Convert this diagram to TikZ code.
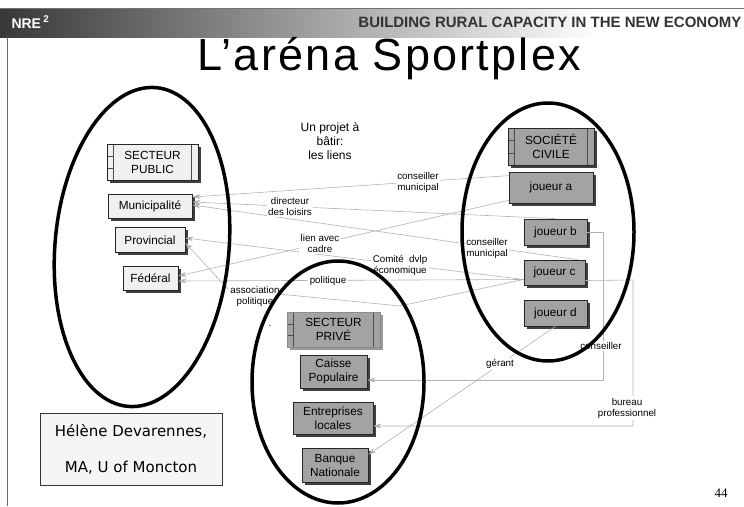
\documentclass[tikz,border=0pt]{standalone}
\usepackage{fontspec}
\setmainfont{Liberation Sans}
\newfontfamily\vfont{DejaVu Sans}
\newfontfamily\numfont{Liberation Serif}
\usetikzlibrary{arrows.meta, shadows}

\begin{document}
\begin{tikzpicture}[x=1pt, y=-1pt]

\tikzset{box/.style = {draw=black!85, line width=.7pt, inner sep=1pt, align=center, font=\fontsize{11.8}{14}\selectfont, drop shadow={shadow xshift=2.5pt, shadow yshift=-2.5pt, fill=black!75, opacity=1}}}
\tikzset{pub/.style = {box, fill=black!6}}
\tikzset{civ/.style = {box, fill=black!36}}
\tikzset{sector/.style = {path picture={
  \draw[black!70, line width=.6pt] ([xshift=6pt]path picture bounding box.north west) -- ([xshift=6pt]path picture bounding box.south west)
    ([yshift=-12pt]path picture bounding box.north west) -- ++(6pt,0)
    ([yshift=12pt]path picture bounding box.south west) -- ++(6pt,0)
    ([xshift=-7pt]path picture bounding box.north east) -- ([xshift=-7pt]path picture bounding box.south east);}}}
\tikzset{link/.style = {draw=black!30, line width=.6pt, -{Stealth[length=8pt,width=5pt]}}}
\tikzset{tag/.style = {fill=white, inner sep=1.5pt, align=center, font=\fontsize{9.8}{11}\selectfont}}
\tikzset{ring/.style = {draw=black, line width=3.5pt}}

\useasboundingbox (0,0) rectangle (744,506);

%header
\shade[left color=black!78, right color=white] (0,8) rectangle (600,37);
\draw[black!55, line width=.5pt] (0,8) -- (744,8);
\draw[black!60, line width=.6pt] (7,37) -- (7,506);
\node[anchor=west, text=white, font=\bfseries\fontsize{14}{14}\selectfont] (nre) at (8,22) {NRE\,\textsuperscript{2}};
\node[anchor=east, text=black!80, font=\bfseries\fontsize{15}{15}\selectfont] (motto) at (745,22) {BUILDING RURAL CAPACITY IN THE NEW ECONOMY};
\node[font=\fontsize{45}{45}\selectfont\addfontfeatures{LetterSpace=5}] (titre) at (389,59) {L’aréna Sportplex};
\node[font=\fontsize{12}{14}\selectfont, align=center] (projet) at (330,141) {Un projet à\\bâtir:\\les liens};

%boxes
\node[pub, sector, minimum width=91pt, minimum height=36pt] (secpub) at (152.5,162) {SECTEUR\\PUBLIC};
\node[pub, minimum width=84pt, minimum height=24pt] (munic) at (150,206) {Municipalité};
\node[pub, minimum width=70pt, minimum height=25pt] (provin) at (150,240) {Provincial};
\node[pub, minimum width=55pt, minimum height=24pt] (federal) at (150.5,278) {Fédéral};
\node[civ, sector, minimum width=86pt, minimum height=37pt] (soccivil) at (551,146.5) {SOCIÉTÉ\\CIVILE};
\node[civ, minimum width=84pt, minimum height=31pt] (joua) at (551,187.5) {joueur a};
\node[civ, minimum width=63pt, minimum height=26pt] (joub) at (555.5,232) {joueur b};
\node[civ, minimum width=61pt, minimum height=25pt] (jouc) at (554.5,272.5) {joueur c};
\node[civ, minimum width=63pt, minimum height=26pt] (joud) at (555.5,313) {joueur d};
\node[civ, sector, draw=black!45, drop shadow={shadow xshift=2.5pt, shadow yshift=-2.5pt, fill=black!40, opacity=1}, minimum width=93pt, minimum height=35pt] (secpri) at (333.5,329.5) {SECTEUR\\PRIVÉ};
\node[civ, minimum width=67pt, minimum height=33pt] (caisse) at (333.5,371.5) {Caisse\\Populaire};
\node[civ, minimum width=80pt, minimum height=32pt] (entrep) at (333,418) {Entreprises\\locales};
\node[civ, minimum width=66pt, minimum height=34pt] (banque) at (335,465) {Banque\\Nationale};
\node[draw=black!80, fill=black!4, line width=.6pt, minimum width=182pt, minimum height=72pt, align=center, font=\vfont\fontsize{15}{18}\selectfont] (auteur) at (131,449) {Hélène Devarennes,\\[18pt]MA, U of Moncton};

%links
\coordinate (assocbend) at (400,306);
\coordinate (assocleft) at (228,289);
\coordinate (conscorner) at (603,232);
\coordinate (burcorner) at (633,280);
\draw[link] ([yshift=-4pt]joua.north west) -- ([yshift=9pt]munic.east);
\draw[link] (joub.north) -- ([yshift=4pt]munic.east);
\draw[link] ([xshift=-8pt]jouc.north east) -- ([yshift=1pt]munic.east);
\draw[link] ([yshift=-7pt]jouc.west) -- ([yshift=2pt]provin.east);
\draw[link] ([yshift=-7pt]jouc.west) -- (assocbend) -- (assocleft) -- ([yshift=-3pt]provin.east);
\draw[link] ([yshift=-7pt]jouc.west) -- ([yshift=-3pt]federal.east);
\draw[link] ([yshift=3pt]joua.south west) -- ([yshift=2pt]federal.east);
\draw[link] (joub.east) -- (conscorner) |- ([yshift=-8.5pt]caisse.east);
\draw[link] ([yshift=-8pt]jouc.east) -- (burcorner) |- ([yshift=-8pt]entrep.east);
\draw[link] (joud.south) -- ([yshift=-7pt]banque.north east);

%labels
\node[tag] (cmun1) at (418,182) {conseiller\\municipal};
\node[tag] (dirl) at (290,206) {directeur\\des loisirs};
\node[tag] (cadre) at (320,243) {lien avec\\cadre};
\node[tag] (comite) at (400,265) {Comité\ \ dvlp\\économique};
\node[tag] (cmun2) at (487,248) {conseiller\\municipal};
\node[tag] (polit) at (328,281) {politique};
\node[tag] (assoc) at (255,296) {association\\politique};
\node[tag] (gerant) at (500,364) {gérant};
\node[tag] (consl) at (601,346) {conseiller};
\node[tag] (bureau) at (627,408) {bureau\\professionnel};
\node[tag, fill=none] (point) at (270,326) {.};
\node[font=\numfont\fontsize{13}{13}\selectfont] (page) at (721,493) {44};

%ellipses
\begin{scope}[shift={(142,247)}, rotate=-5]
\draw[ring] (0,0) ellipse [x radius=87pt, y radius=160pt];
\end{scope}
\draw[ring] (548,232) ellipse [x radius=86pt, y radius=129pt];
\draw[ring] (338,382) ellipse [x radius=86pt, y radius=121pt];

\end{tikzpicture}
\end{document}
